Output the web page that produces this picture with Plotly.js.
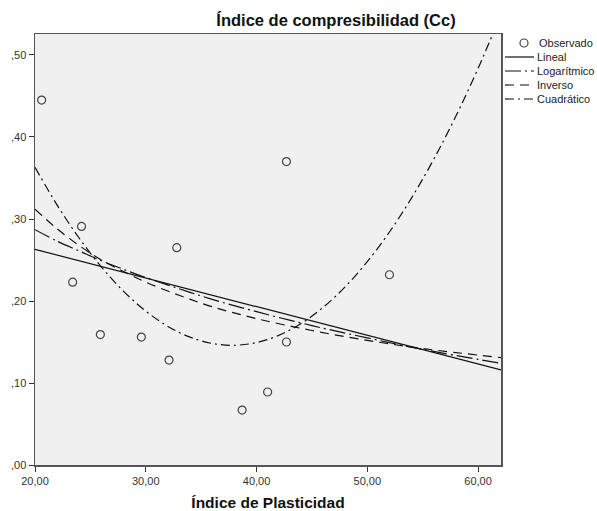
<!DOCTYPE html>
<html>
<head>
<meta charset="utf-8">
<script src="https://cdn.plot.ly/plotly-3.0.1.min.js"></script>
<style>body{margin:0;background:#fff}</style>
</head>
<body>
<div id="chart" style="width:597px;height:511px"></div>
<script>
// Observed points
const obsX = [20.6, 24.2, 23.4, 25.9, 29.6, 32.1, 32.8, 38.7, 41.0, 42.7, 42.7, 52.0];
const obsY = [0.445, 0.291, 0.223, 0.159, 0.156, 0.128, 0.265, 0.067, 0.089, 0.370, 0.150, 0.232];

// Fitted curves
const linX = [20, 30, 40, 50, 62.07];
const linY = [0.263, 0.228, 0.193, 0.158, 0.116];

const logX = [20, 22, 24, 26, 28, 30, 33, 36, 40, 45, 50, 55, 62.07];
const logY = [0.287, 0.273, 0.261, 0.249, 0.2385, 0.2286, 0.215, 0.202, 0.187, 0.170, 0.155, 0.141, 0.124];

const invX = [20, 22, 24, 26, 28, 30, 33, 36, 40, 45, 50, 55, 62.07];
const invY = [0.312, 0.288, 0.2675, 0.250, 0.236, 0.223, 0.207, 0.193, 0.1785, 0.164, 0.152, 0.142, 0.131];

const quadX = [20, 22, 24, 26, 28, 30, 32, 34, 36, 38, 40, 42, 44, 46, 48, 50, 52, 54, 56, 58, 60, 62];
const quadY = [0.363, 0.317, 0.2765, 0.2414, 0.2118, 0.1877, 0.169, 0.1559, 0.1482, 0.146, 0.1493, 0.1581, 0.1723, 0.1921, 0.2173, 0.248, 0.2841, 0.3258, 0.3729, 0.4255, 0.4836, 0.5472];

const xTicks = [20, 30, 40, 50, 60];
const xTickText = ["20,00", "30,00", "40,00", "50,00", "60,00"];
const yTicks = [0, 0.1, 0.2, 0.3, 0.4, 0.5];
const yTickText = [",00", ",10", ",20", ",30", ",40", ",50"];

const seriesNames = ['Observado', 'Lineal', 'Logarítmico', 'Inverso', 'Cuadrático'];

const lineCol = '#111';
const dashes = ['solid', 'solid', '16px,4px,2px,4px', '9px,6px', '9px,4px,2px,4px'];
const traces = [
  {x: obsX, y: obsY, mode: 'markers', type: 'scatter', name: seriesNames[0],
   marker: {symbol: 'circle-open', size: 8, color: '#444', line: {width: 1.2, color: '#444'}}},
  {x: linX, y: linY, mode: 'lines', type: 'scatter', name: seriesNames[1],
   line: {color: lineCol, width: 1.2, dash: dashes[1]}},
  {x: logX, y: logY, mode: 'lines', type: 'scatter', name: seriesNames[2],
   line: {color: lineCol, width: 1.2, dash: dashes[2], shape: 'spline'}},
  {x: invX, y: invY, mode: 'lines', type: 'scatter', name: seriesNames[3],
   line: {color: lineCol, width: 1.2, dash: dashes[3], shape: 'spline'}},
  {x: quadX, y: quadY, mode: 'lines', type: 'scatter', name: seriesNames[4],
   line: {color: lineCol, width: 1.2, dash: dashes[4], shape: 'spline'}}
];

// Legend drawn with shapes/annotations (compact SPSS style)
const L = 35, R = 501, T = 34, B = 465;
const px2x = p => (p - L) / (R - L);
const px2y = p => (B - p) / (B - T);
const shapes = [], annotations = [];
seriesNames.forEach((nm, i) => {
  const yy = 43 + i * 14;
  if (i === 0) {
    shapes.push({type: 'circle', xref: 'paper', yref: 'paper',
      x0: px2x(520), x1: px2x(528), y0: px2y(yy + 4), y1: px2y(yy - 4),
      line: {color: '#444', width: 1.2}});
  } else {
    shapes.push({type: 'line', xref: 'paper', yref: 'paper',
      x0: px2x(505), x1: px2x(534), y0: px2y(yy), y1: px2y(yy),
      line: {color: lineCol, width: 1.2, dash: dashes[i]}});
  }
  annotations.push({text: nm, xref: 'paper', yref: 'paper', x: px2x(i === 0 ? 537 : 535), y: px2y(yy),
    xanchor: 'left', yanchor: 'middle', showarrow: false,
    font: {size: 11, color: '#222'}});
});

const layout = {
  width: 597, height: 511,
  margin: {l: 35, r: 96, t: 34, b: 46, autoexpand: false},
  paper_bgcolor: '#ffffff',
  plot_bgcolor: '#f0f0f0',
  font: {family: 'Liberation Sans, Arial, sans-serif', size: 11, color: '#222'},
  title: {text: '<b>Índice de compresibilidad (Cc)</b>', font: {size: 16.5, color: '#111'},
          x: 336/597, xanchor: 'center', xref: 'container', y: 1 - 20/511, yanchor: 'middle'},
  xaxis: {range: [20, 62.07], tickvals: xTicks, ticktext: xTickText,
          showgrid: false, zeroline: false, showline: true, mirror: true,
          linecolor: '#555', linewidth: 1.5, ticks: 'outside', ticklen: 5, tickcolor: '#333',
          tickfont: {size: 11, color: '#333'},
          title: {text: '<b>Índice de Plasticidad</b>', font: {size: 15.5, color: '#111'}, standoff: 12}},
  yaxis: {range: [0, 0.5256], tickvals: yTicks, ticktext: yTickText,
          showgrid: false, zeroline: false, showline: true, mirror: true,
          linecolor: '#555', linewidth: 1.5, ticks: 'outside', ticklen: 5, tickcolor: '#333',
          tickfont: {size: 11, color: '#333'}},
  showlegend: false,
  shapes: shapes,
  annotations: annotations
};

Plotly.newPlot('chart', traces, layout, {displayModeBar: false, staticPlot: true});
</script>
</body>
</html>
